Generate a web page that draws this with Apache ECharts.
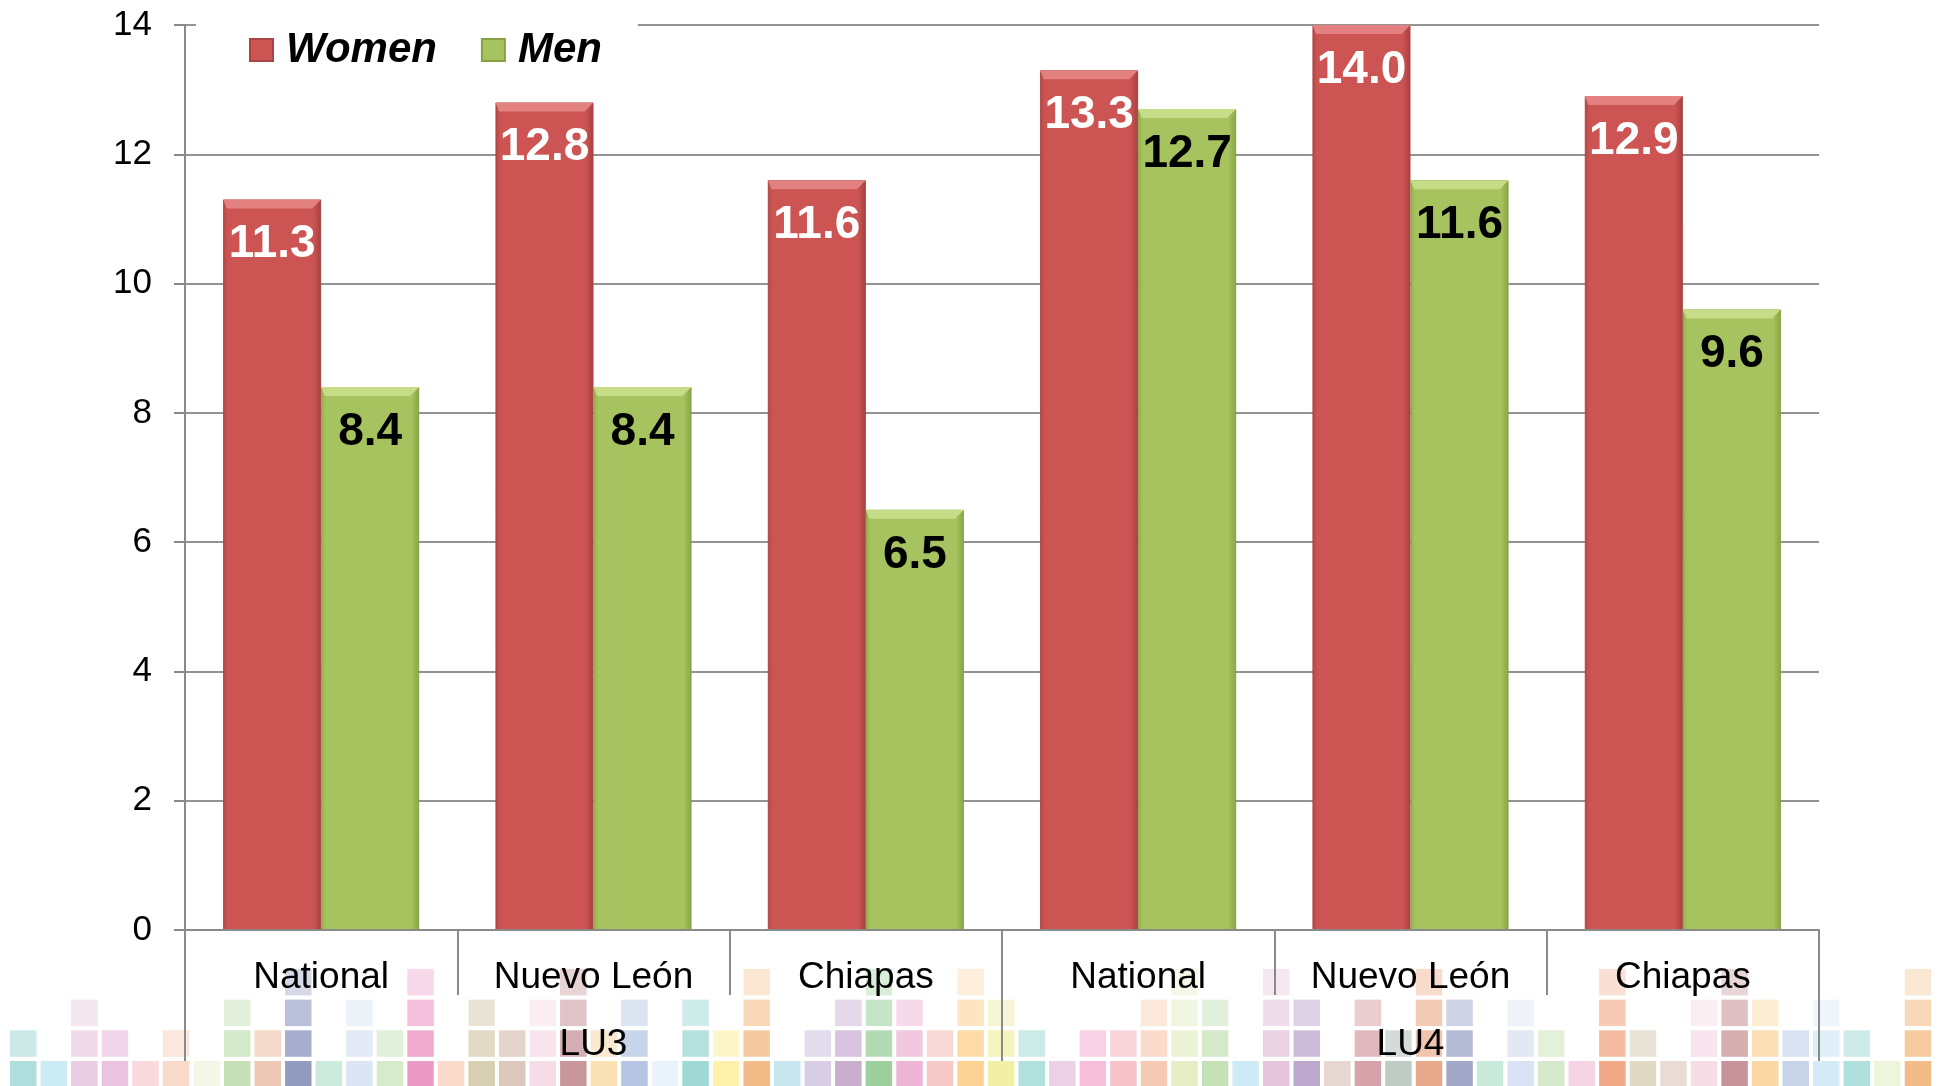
<!DOCTYPE html>
<html>
<head>
<meta charset="utf-8">
<script src="https://cdn.jsdelivr.net/npm/echarts@6/dist/echarts.min.js"></script>
<style>
html,body{margin:0;padding:0;background:#fff;}
#chart{width:1939px;height:1086px;}
</style>
</head>
<body>
<div id="chart"></div>
<script>
// ---- data ----
const categories = ['National', 'Nuevo León', 'Chiapas', 'National', 'Nuevo León', 'Chiapas'];
const groups = ['LU3', 'LU4'];
const women = [11.3, 12.8, 11.6, 13.3, 14.0, 12.9];
const men = [8.4, 8.4, 6.5, 12.7, 11.6, 9.6];
const seriesNames = ['Women', 'Men'];
const yMin = 0, yMax = 14, yStep = 2;

// ---- decorative background tiles (colors per column, bottom to top) ----
const deco = [
['#B0DEDC','#CCE9E8'],['#CCECF5'],['#E9CDE2','#F0DAE8','#F4E6EF'],['#EAC3DE','#F1D6EA'],
['#FADADF'],['#F9D9C9','#FBE8DC'],['#F4F6E6'],['#C5E0B5','#D3E9C9','#E2F0DA'],
['#EFC8B5','#F5DACB'],['#939CC0','#A7AECD','#BBC0D9','#D5D8E7'],['#CCEBDD'],
['#DCE5F3','#E3EAF5','#EDF2F9'],['#D5EBCB','#E0F0DA'],['#EB9AC5','#EFAACE','#F4C0DD','#F8D9E9'],
['#F9DACB'],['#D8D0B2','#E2DAC5','#EAE4D7'],['#DDC6BB','#E5D4CC'],['#F5DCE6','#F8E4EC','#FAEEF3'],
['#C7979C','#D4AEB2','#DFC3C6','#E8D3D5'],['#FBE1B3','#FAE8D0'],['#B6C6E2','#C8D4EA','#DCE3F1'],
['#EAF2FB'],['#9ED9D5','#B6E2DE','#CDEBE8'],['#FEF2AB','#FEF6CB'],['#F2BB88','#F5C9A0','#F8D8B9','#FBE7D2'],
['#C8E6EE'],['#D7CDE4','#E2DCEC'],['#C9AED0','#D8C4DE','#E5D8EA'],['#9ED09E','#B3DBB3','#C6E5C6','#D9EED9'],
['#EEB5D6','#F2C8E1','#F6DAEA'],['#F6C9C6','#F9D8D5'],['#FDD394','#FDDCAA','#FDE5C2','#FDEFDC'],
['#F2F0A6','#F5F3BE','#F7F6D4'],['#B1E1DA','#CCEAE6'],['#EDD2E6'],['#F6BFD9','#F9D3E5'],
['#F6C3CB','#F9D4DA'],['#F6CBB6','#F9DACB','#FBE7DC'],['#E5EEC5','#ECF2D5','#F1F6E0','#F5F8E8'],
['#C5E2B6','#D3E9C8','#E0F0DA'],['#CCEBF5'],['#E6C4DD','#EBD1E4','#F0DDEB','#F4E7F0'],
['#BDA8CE','#CDBCD9','#DED2E6'],['#E6D7D0'],['#D7A2AA','#E1B8BD','#EACDD1'],['#C0CBC4','#D3DCD8'],
['#E8A98A','#F0C4AE','#F2CBB7','#F7DCCD'],['#A3A8C9','#B5BAD5','#CFD3E5'],['#C9EADB'],
['#D9E3F3','#E2E9F5','#EEF3FA'],['#D6EACB','#E3F1DB'],['#F6D4E6'],['#F2A988','#F5BCA1','#F7CAB5','#FAE0D4'],
['#E0D9C6','#E8E3D6'],['#E8DCD4'],['#F6DEE6','#F8E4EC','#FAEEF3'],['#C79599','#D4AEB1','#DEC0C3','#E8D5D7'],
['#FAD6A3','#FBDFB6','#FDEDD3'],['#C9D3E8','#DAE1F0'],['#D6E9F6','#E0EEF8','#EEF5FB'],['#B0E0DD','#CCEAE8'],
['#EFF5DC'],['#F2BC88','#F5CA9E','#F8D8B8','#FBE8D4']
];

const FONT = '"Liberation Sans", Arial, Helvetica, sans-serif';
const CAT_GAP = 0.28;
const redGrad = new echarts.graphic.LinearGradient(0, 0, 1, 0, [
  {offset: 0, color: '#B84744'}, {offset: 0.05, color: '#CC5553'},
  {offset: 0.92, color: '#CC5553'}, {offset: 1, color: '#A63F3D'}
]);
const greenGrad = new echarts.graphic.LinearGradient(0, 0, 1, 0, [
  {offset: 0, color: '#93B24D'}, {offset: 0.05, color: '#A6C35F'},
  {offset: 0.92, color: '#A6C35F'}, {offset: 1, color: '#88A543'}
]);

const decoEls = [];
deco.forEach((col, i) => {
  col.forEach((c, k) => {
    decoEls.push({
      type: 'rect', z: -10, silent: true,
      shape: {x: 10 + i * 30.56, y: 1061 - k * 30.7, width: 26.5, height: 26.5},
      style: {fill: c}
    });
  });
});

function bevelRenderer(which, light) {
  return function (params, api) {
    const idx = api.value(0), v = api.value(1);
    const top = api.coord([idx, v]);
    const cw = api.size([1, 0])[0];
    const bw = cw * (1 - CAT_GAP) / 2;
    const x0 = which === 0 ? top[0] - bw : top[0];
    const x1 = x0 + bw;
    const y0 = top[1], b = 9;
    return {
      type: 'polygon',
      shape: {points: [[x0, y0], [x1, y0], [x1 - b, y0 + b], [x0 + b * 0.4, y0 + b]]},
      style: {fill: light}
    };
  };
}

const tickStyle = {color: '#8A8A8A', width: 2};
const chart = echarts.init(document.getElementById('chart'), null, {renderer: 'canvas'});
chart.setOption({
  animation: false,
  backgroundColor: '#fff',
  textStyle: {fontFamily: FONT},
  graphic: {elements: decoEls},
  legend: {
    data: seriesNames,
    icon: 'rect',
    left: 196, top: 7,
    padding: [22, 36, 12, 53],
    backgroundColor: '#fff',
    itemWidth: 23, itemHeight: 22, itemGap: 44,
    textStyle: {fontFamily: FONT, fontSize: 42, fontWeight: 'bold', fontStyle: 'italic', color: '#000', padding: [0, 0, 0, 8]}
  },
  grid: {left: 185, right: 120, top: 25, bottom: 156, containLabel: false},
  xAxis: [{
    type: 'category', data: categories, position: 'bottom', z: 3,
    axisLine: {show: true, lineStyle: tickStyle},
    axisTick: {show: true, interval: 0, alignWithLabel: false, length: 65, lineStyle: tickStyle},
    axisLabel: {fontFamily: FONT, fontSize: 37, color: '#000', margin: 29, interval: 0}
  }, {
    type: 'category', data: groups, position: 'bottom', z: 3,
    axisLine: {show: false},
    axisTick: {show: true, interval: 0, alignWithLabel: false, length: 131, lineStyle: tickStyle},
    axisLabel: {fontFamily: FONT, fontSize: 37, color: '#000', margin: 96, interval: 0}
  }],
  yAxis: {
    type: 'value', min: yMin, max: yMax, interval: yStep, z: 0,
    axisLine: {show: true, lineStyle: tickStyle},
    axisTick: {show: true, length: 11, lineStyle: tickStyle},
    axisLabel: {fontFamily: FONT, fontSize: 35, color: '#000', margin: 33},
    splitLine: {lineStyle: {color: '#939393', width: 2}}
  },
  series: [{
    name: seriesNames[0], type: 'bar', data: women, z: 2,
    barCategoryGap: (CAT_GAP * 100) + '%', barGap: '0%',
    itemStyle: {color: redGrad, borderColor: '#A84442', borderWidth: 1},
    label: {show: true, position: 'insideTop', distance: 22, fontFamily: FONT, fontSize: 46, lineHeight: 46,
      fontWeight: 'bold', color: '#fff', formatter: p => p.value.toFixed(1)}
  }, {
    name: seriesNames[1], type: 'bar', data: men, z: 2,
    barCategoryGap: (CAT_GAP * 100) + '%', barGap: '0%',
    itemStyle: {color: greenGrad, borderColor: '#86A244', borderWidth: 1},
    label: {show: true, position: 'insideTop', distance: 22, fontFamily: FONT, fontSize: 46, lineHeight: 46,
      fontWeight: 'bold', color: '#000', formatter: p => p.value.toFixed(1)}
  }, {
    name: 'bevelW', type: 'custom', silent: true, z: 3,
    data: women.map((v, i) => [i, v]),
    renderItem: bevelRenderer(0, '#E2817F')
  }, {
    name: 'bevelM', type: 'custom', silent: true, z: 3,
    data: men.map((v, i) => [i, v]),
    renderItem: bevelRenderer(1, '#C6DC87')
  }]
});
</script>
</body>
</html>
